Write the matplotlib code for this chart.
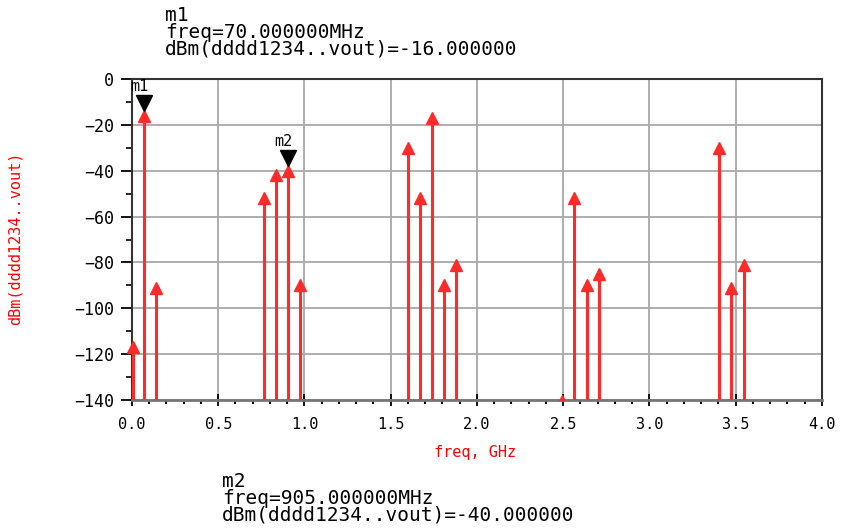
import matplotlib
matplotlib.use('Agg')
import matplotlib.pyplot as plt
from matplotlib.ticker import MultipleLocator
from matplotlib.transforms import ScaledTranslation
from matplotlib.patches import Rectangle

# spectrum lines (GHz, dBm)
freq = [0.005, 0.07, 0.14,
        0.765, 0.835, 0.905, 0.975,
        1.60, 1.67, 1.74, 1.81, 1.88,
        2.495, 2.565, 2.635, 2.705,
        3.405, 3.475, 3.545]
dbm = [-117, -16, -91,
       -52, -42, -40, -90,
       -30, -52, -17, -90, -81,
       -140.5, -52, -90, -85,
       -30, -91, -81]

# markers
m1_freq, m1_val = 0.07, -16
m2_freq, m2_val = 0.905, -40

xticks = [0.0, 0.5, 1.0, 1.5, 2.0, 2.5, 3.0, 3.5, 4.0]
yticks = [0, -20, -40, -60, -80, -100, -120, -140]

mono = 'DejaVu Sans Mono'
W, H = 845, 528

fig = plt.figure(figsize=(W / 100, H / 100), dpi=100)
ax = fig.add_axes([132 / W, 128 / H, 690 / W, 321 / H])

# stems with arrow heads
ml, sl, bl = ax.stem(freq, dbm, bottom=-140, linefmt='-', markerfmt='^', basefmt=' ')
plt.setp(sl, color='#ff2a2a', linewidth=2.2, zorder=4)
plt.setp(ml, color='#ff2a2a', markersize=8, zorder=4)
# let the arrow at 0 GHz poke past the left spine, but cut everything at the bottom
clip = Rectangle((-0.03, 0), 1.06, 1.1, transform=ax.transAxes, fill=False)
sl.set_clip_path(clip)
ml.set_clip_path(clip)

# marker symbols (black triangles above the tips)
up = ScaledTranslation(0, 9 / 72, fig.dpi_scale_trans)
for f, v, name in [(m1_freq, m1_val, 'm1'), (m2_freq, m2_val, 'm2')]:
    ax.plot([f], [v], marker='v', color='black', markersize=12,
            transform=ax.transData + up, clip_on=False, zorder=5)
    ax.annotate(name, (f, v), xytext=(-10, 18), textcoords='offset points',
                fontsize=11, family=mono, color='black', annotation_clip=False)

ax.set_xlim(0, 4.0)
ax.set_ylim(-140, 0)
ax.set_xticks(xticks)
ax.set_yticks(yticks)
ax.xaxis.set_minor_locator(MultipleLocator(0.1))
ax.yaxis.set_minor_locator(MultipleLocator(10))
ax.set_xticklabels(['%.1f' % t for t in xticks])
ax.grid(True, which='major', color='#a8a8a8', linewidth=1.3)
ax.set_axisbelow(True)

ax.tick_params(axis='y', which='major', direction='out', length=8, width=1.3, pad=5,
               labelsize=12)
ax.tick_params(axis='y', which='minor', direction='out', length=4, width=1.2)
ax.tick_params(axis='x', which='major', direction='inout', length=8, width=1.3, pad=8,
               labelsize=11)
ax.tick_params(axis='x', which='minor', direction='out', length=3, width=1.5)
for lab in ax.get_xticklabels() + ax.get_yticklabels():
    lab.set_family(mono)

for s in ax.spines.values():
    s.set_linewidth(1.5)
    s.set_color('#333333')
ax.spines['bottom'].set_color('#777777')
ax.spines['bottom'].set_linewidth(2)

ax.set_xlabel('freq, GHz', color='red', fontsize=11, family=mono)
ax.xaxis.set_label_coords(0.497, -0.14)
ax.set_ylabel('dBm(dddd1234..vout)', color='red', fontsize=11, family=mono)
ax.yaxis.set_label_coords(-0.158, 0.505)

# marker readouts
fig.text(165 / W, 1 - 6 / H,
         'm1\nfreq=70.000000MHz\ndBm(dddd1234..vout)=-16.000000',
         va='top', ha='left', family=mono, fontsize=14, linespacing=0.85)
fig.text(222 / W, 1 - 472 / H,
         'm2\nfreq=905.000000MHz\ndBm(dddd1234..vout)=-40.000000',
         va='top', ha='left', family=mono, fontsize=14, linespacing=0.85)

fig.savefig('out.png', dpi=100)
